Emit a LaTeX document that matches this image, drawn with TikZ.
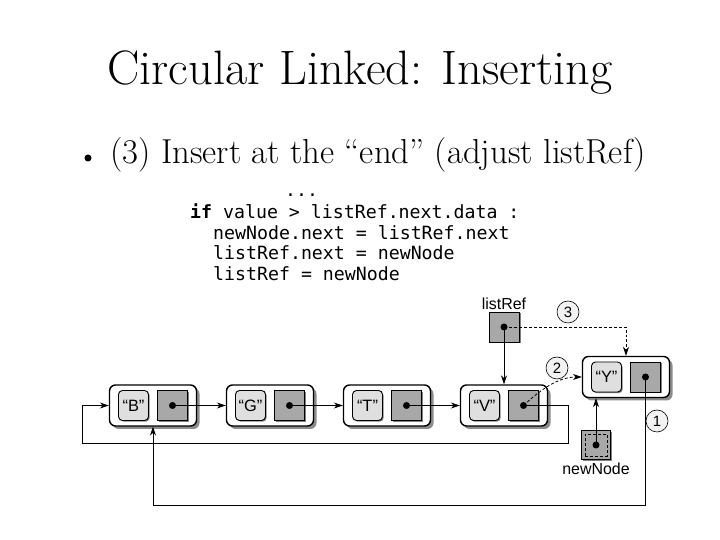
\documentclass[tikz,border=0pt]{standalone}
\usepackage{fontspec}
\newfontfamily\labelfont{Liberation Sans}
\newfontfamily\codefont{DejaVu Sans Mono}
\usetikzlibrary{arrows.meta,positioning,calc,shadows}
\tikzset{
    listbox/.style = {draw, line width=1.4bp, rounded corners=6bp, fill=white, minimum width=87bp, minimum height=41bp,
        drop shadow={shadow xshift=3bp, shadow yshift=-3bp, fill=gray!90, opacity=1}},
    databox/.style = {draw, line width=0.9bp, rounded corners=4bp, fill=gray!25, minimum size=30bp, inner sep=0pt,
        font=\labelfont\fontsize{16.5}{16.5}\selectfont,
        drop shadow={shadow xshift=1.2bp, shadow yshift=-1.2bp, fill=gray, opacity=1}},
    ptrbox/.style = {draw, line width=0.9bp, fill=gray!68, minimum size=30bp, inner sep=0pt,
        drop shadow={shadow xshift=1.5bp, shadow yshift=-1.5bp, fill=gray, opacity=1}},
    link/.style = {line width=0.8bp, -{Stealth[length=9bp,width=6bp]}},
    moved/.style = {link, densely dashed},
    numcircle/.style = {draw, circle, line width=0.6bp, fill=gray!10, minimum size=22bp, inner sep=0pt,
        font=\labelfont\fontsize{15}{15}\selectfont},
    reflabel/.style = {inner sep=1bp, font=\labelfont\fontsize{16}{16}\selectfont},
    codeline/.style = {anchor=base west, inner sep=0pt, font=\codefont\fontsize{18.3}{20}\selectfont},
}
% one list node: name, x, y, value
\newcommand{\listnode}[4]{%
    \node[listbox] (#1) at (#2,#3) {};
    \node[databox] (#1-d) at ([xshift=-19.5bp]#1.center) {#4};
    \node[ptrbox] (#1-p) at ([xshift=19.5bp]#1.center) {};
    \fill (#1-p.center) circle (3.5bp);
}

\begin{document}
\begin{tikzpicture}[x=1bp, y=1bp]
    \useasboundingbox (0,0) rectangle (720,540);

    % Title and bullet
    \node[anchor=base, inner sep=0pt, font=\fontsize{48.5}{54}\selectfont] (title) at (360,455) {Circular Linked: Inserting};
    \node[circle, fill, inner sep=0pt, minimum size=7bp] (bullet) at (88,382) {};
    \node[anchor=base west, inner sep=0pt, font=\fontsize{34.8}{40}\selectfont] (point) at (110,376) {(3) Insert at the “end” (adjust listRef)};

    % Code
    \node[codeline] (dots) at (285,343) {...};
    \node[codeline] (code1) at (190,321) {{\bfseries if} value > listRef.next.data :};
    \node[codeline] (code2) at (213,300) {newNode.next = listRef.next};
    \node[codeline] (code3) at (213,280) {listRef.next = newNode};
    \node[codeline] (code4) at (213,259) {listRef = newNode};

    % List nodes
    \listnode{B}{153}{134.5}{“B”}
    \listnode{G}{270}{134.5}{“G”}
    \listnode{T}{387}{134.5}{“T”}
    \listnode{V}{504}{134.5}{“V”}
    \listnode{Y}{626}{163}{“Y”}

    % External references
    \node[ptrbox] (listRef) at (504,213) {};
    \fill (listRef.center) circle (3.5bp);
    \node[reflabel, above=1bp of listRef] (listRefLbl) {listRef};

    \node[ptrbox, minimum size=29bp] (newNode) at (596,95) {};
    \draw[densely dashed, line width=0.6bp] ([shift={(4bp,4bp)}]newNode.south west) rectangle ([shift={(-4bp,-4bp)}]newNode.north east);
    \fill (newNode.center) circle (3.5bp);
    \node[reflabel, below=2bp of newNode] (newNodeLbl) {newNode};

    % Step marks
    \node[numcircle] (mark1) at (657,119) {1};
    \node[numcircle] (mark2) at (557,172) {2};
    \node[numcircle] (mark3) at (568,228) {3};

    % Turning points
    \coordinate (oldturn) at (568,97);
    \coordinate (oldback) at (82,97);
    \coordinate (loopB) at (153,35);

    % Connections
    \draw[link] (B-p.center) -- (B-p.center -| G.west);
    \draw[link] (G-p.center) -- (G-p.center -| T.west);
    \draw[link] (T-p.center) -- (T-p.center -| V.west);
    \draw[link] (V-p.center) -| (oldturn) -- (oldback) |- (B.west);

    \draw[link] (Y-p.center) |- (loopB) -- (B.south);
    \draw[link] (newNode.center) -- (newNode.center |- Y.south);
    \draw[link] (listRef.center) -- (V.north);

    % Moves
    \draw[moved] (listRef.center) -| (Y.north);
    \draw[moved] (V-p.center) .. controls (540,150) and (558,163) .. (Y.west);
\end{tikzpicture}
\end{document}
